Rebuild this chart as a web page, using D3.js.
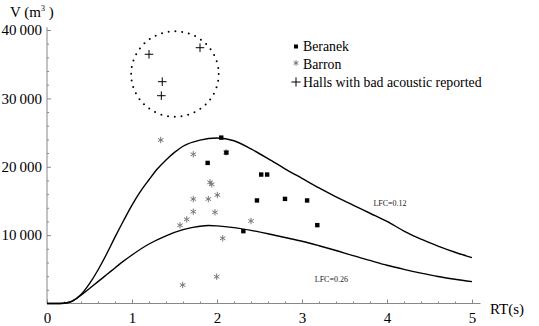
<!DOCTYPE html>
<html>
<head>
<meta charset="utf-8">
<script src="https://cdn.jsdelivr.net/npm/d3@7"></script>
<style>
  body { margin: 0; background: #fff; }
  svg { display: block; }
</style>
</head>
<body>
<svg id="chart" width="539" height="326"></svg>
<script>
var xTicks = [0, 1, 2, 3, 4, 5];
var yTicks = [10000, 20000, 30000, 40000];

// curves, [RT, V]
var lfc012 = [[0, 0], [0.15, 0], [0.25, 150], [0.3, 350], [0.4, 1300], [0.5, 2900], [0.6, 4900], [0.7, 7200], [0.8, 9700],
  [0.9, 12100], [1.0, 14400], [1.1, 16400], [1.2, 18100], [1.3, 19700], [1.4, 21000], [1.5, 22100], [1.6, 23000],
  [1.8, 23900], [2.0, 24200], [2.2, 23800], [2.4, 22600], [2.6, 21200], [2.8, 19700], [3.0, 18300], [3.2, 16900],
  [3.4, 15600], [3.6, 14400], [3.8, 13200], [4.0, 12000], [4.2, 10600], [4.4, 9400], [4.6, 8400], [4.8, 7500], [5.0, 6700]];
var lfc026 = [[0, 0], [0.15, 0], [0.25, 150], [0.3, 400], [0.4, 1200], [0.5, 2200], [0.6, 3200], [0.7, 4200], [0.8, 5200],
  [0.9, 6200], [1.0, 7100], [1.2, 8700], [1.4, 9900], [1.6, 10800], [1.8, 11300], [1.9, 11400], [2.0, 11350],
  [2.2, 11100], [2.4, 10700], [2.6, 10200], [2.8, 9650], [3.0, 9100], [3.2, 8450], [3.4, 7750], [3.6, 7000],
  [3.8, 6300], [4.0, 5600], [4.2, 5000], [4.4, 4450], [4.6, 3950], [4.8, 3550], [5.0, 3200]];

var beranek = [[2.05, 24260], [2.11, 22070], [1.89, 20560], [2.52, 18860], [2.59, 18860], [2.47, 15070],
  [2.80, 15300], [3.06, 15070], [3.18, 11460], [2.31, 10580]];
var barron = [[1.338, 23910], [1.721, 21820], [2.106, 22110], [1.918, 17730], [1.938, 17430], [1.721, 15280],
  [1.898, 15280], [2.004, 15870], [1.721, 13430], [1.976, 13340], [1.644, 12310], [1.565, 11440],
  [2.40, 12070], [2.067, 9540], [1.996, 3920], [1.596, 2710]];
var badHalls = [[1.20, 36450], [1.80, 37410], [1.356, 32440], [1.345, 30390]];

var legendLabels = ["Beranek", "Barron", "Halls with bad acoustic reported"];

var svg, x, y, line, fmt, minorX, minorY, i, leg, styleAxis, serif;

serif = "'Liberation Serif', 'Times New Roman', Times, Tinos, 'Noto Serif', 'DejaVu Serif', FreeSerif, 'Nimbus Roman', Georgia, serif";
svg = d3.select("#chart").attr("font-family", serif);

x = d3.scaleLinear().domain([0, 5]).range([47, 472]);
y = d3.scaleLinear().domain([0, 40000]).range([303.5, 30]);

fmt = function(d) {
  return d3.format(",")(d).replace(",", "\u2009");
};

minorX = [];
for (i = 0; i <= 25; i++) {
  if (i % 5 !== 0) minorX.push(i / 5);
}
minorY = [];
for (i = 0; i <= 20; i++) {
  if (i % 5 !== 0) minorY.push(i * 2000);
}

styleAxis = function(sel) {
  sel.attr("font-family", serif).attr("font-size", 15);
  sel.select(".domain").remove();
  sel.selectAll("line").attr("stroke", "#888");
  sel.selectAll("text").attr("font-family", serif).attr("font-size", 15).attr("fill", "#000");
};

// axis lines
svg.append("line").attr("x1", x(0)).attr("x2", x(5.1)).attr("y1", y(0)).attr("y2", y(0))
  .attr("stroke", "#888").attr("stroke-width", 1);
svg.append("line").attr("x1", x(0)).attr("x2", x(0)).attr("y1", y(0)).attr("y2", y(40400))
  .attr("stroke", "#888").attr("stroke-width", 1);

svg.append("g").attr("transform", "translate(0," + y(0) + ")")
  .call(d3.axisBottom(x).tickValues(minorX).tickSize(-2).tickSizeOuter(0).tickFormat(""))
  .call(styleAxis);

svg.append("g").attr("transform", "translate(0," + y(0) + ")")
  .call(d3.axisBottom(x).tickValues(xTicks).tickSize(-4).tickSizeOuter(0).tickPadding(9).tickFormat(d3.format("d")))
  .call(styleAxis);

svg.append("g").attr("transform", "translate(" + x(0) + ",0)")
  .call(d3.axisLeft(y).tickValues(minorY).tickSize(-2).tickSizeOuter(0).tickFormat(""))
  .call(styleAxis);

svg.append("g").attr("transform", "translate(" + x(0) + ",0)")
  .call(d3.axisLeft(y).tickValues(yTicks).tickSize(-4).tickSizeOuter(0).tickPadding(5).tickFormat(fmt))
  .call(styleAxis);

// axis titles
var vt = svg.append("text").attr("x", 10).attr("y", 17).attr("font-size", 15);
vt.append("tspan").text("V (m");
vt.append("tspan").attr("font-size", 8).attr("dy", -6).text("3");
vt.append("tspan").attr("dy", 6).text(" )");
svg.append("text").attr("x", 490).attr("y", 314).attr("font-size", 15).text("RT(s)");

// curves
line = d3.line().x(function(d) { return x(d[0]); }).y(function(d) { return y(d[1]); }).curve(d3.curveMonotoneX);
svg.append("path").datum(lfc012).attr("d", line).attr("fill", "none").attr("stroke", "#000").attr("stroke-width", 1.4);
svg.append("path").datum(lfc026).attr("d", line).attr("fill", "none").attr("stroke", "#000").attr("stroke-width", 1.4);

svg.append("text").attr("x", x(3.84)).attr("y", y(14300)).attr("font-size", 8).attr("fill", "#222").text("LFC=0.12");
svg.append("text").attr("x", x(3.15)).attr("y", y(3150)).attr("font-size", 8).attr("fill", "#222").text("LFC=0.26");

// dotted ring round the bad halls
svg.append("ellipse")
  .attr("cx", x(1.505)).attr("cy", y(33560))
  .attr("rx", x(0.515) - x(0)).attr("ry", y(0) - y(6250))
  .attr("fill", "none").attr("stroke", "#000").attr("stroke-width", 2)
  .attr("stroke-linecap", "round").attr("stroke-dasharray", "0 6.8");

// points
svg.append("g").selectAll("path").data(barron).enter().append("path")
  .attr("transform", function(d) { return "translate(" + x(d[0]) + "," + y(d[1]) + ")"; })
  .attr("d", d3.symbol(d3.symbolAsterisk, 28)())
  .attr("fill", "none").attr("stroke", "#777").attr("stroke-width", 1);

svg.append("g").selectAll("rect").data(beranek).enter().append("rect")
  .attr("x", function(d) { return x(d[0]) - 2.2; })
  .attr("y", function(d) { return y(d[1]) - 2.2; })
  .attr("width", 4.4).attr("height", 4.4).attr("fill", "#000");

svg.append("g").selectAll("path").data(badHalls).enter().append("path")
  .attr("transform", function(d) { return "translate(" + x(d[0]) + "," + y(d[1]) + ")"; })
  .attr("d", d3.symbol(d3.symbolPlus, 26)())
  .attr("fill", "none").attr("stroke", "#000").attr("stroke-width", 1);

// legend
leg = svg.append("g").attr("transform", "translate(296,0)");
leg.append("rect").attr("x", -2).attr("y", 44.5).attr("width", 4).attr("height", 4).attr("fill", "#000");
leg.append("path").attr("transform", "translate(0,63)").attr("d", d3.symbol(d3.symbolAsterisk, 22)())
  .attr("fill", "none").attr("stroke", "#777");
leg.append("path").attr("transform", "translate(0,82)").attr("d", d3.symbol(d3.symbolPlus, 30)())
  .attr("fill", "none").attr("stroke", "#000");
leg.selectAll("text").data(legendLabels).enter().append("text")
  .attr("x", 7)
  .attr("y", function(d, j) { return [51, 68.5, 87][j]; })
  .attr("font-size", 13.8).text(function(d) { return d; });
</script>
</body>
</html>
